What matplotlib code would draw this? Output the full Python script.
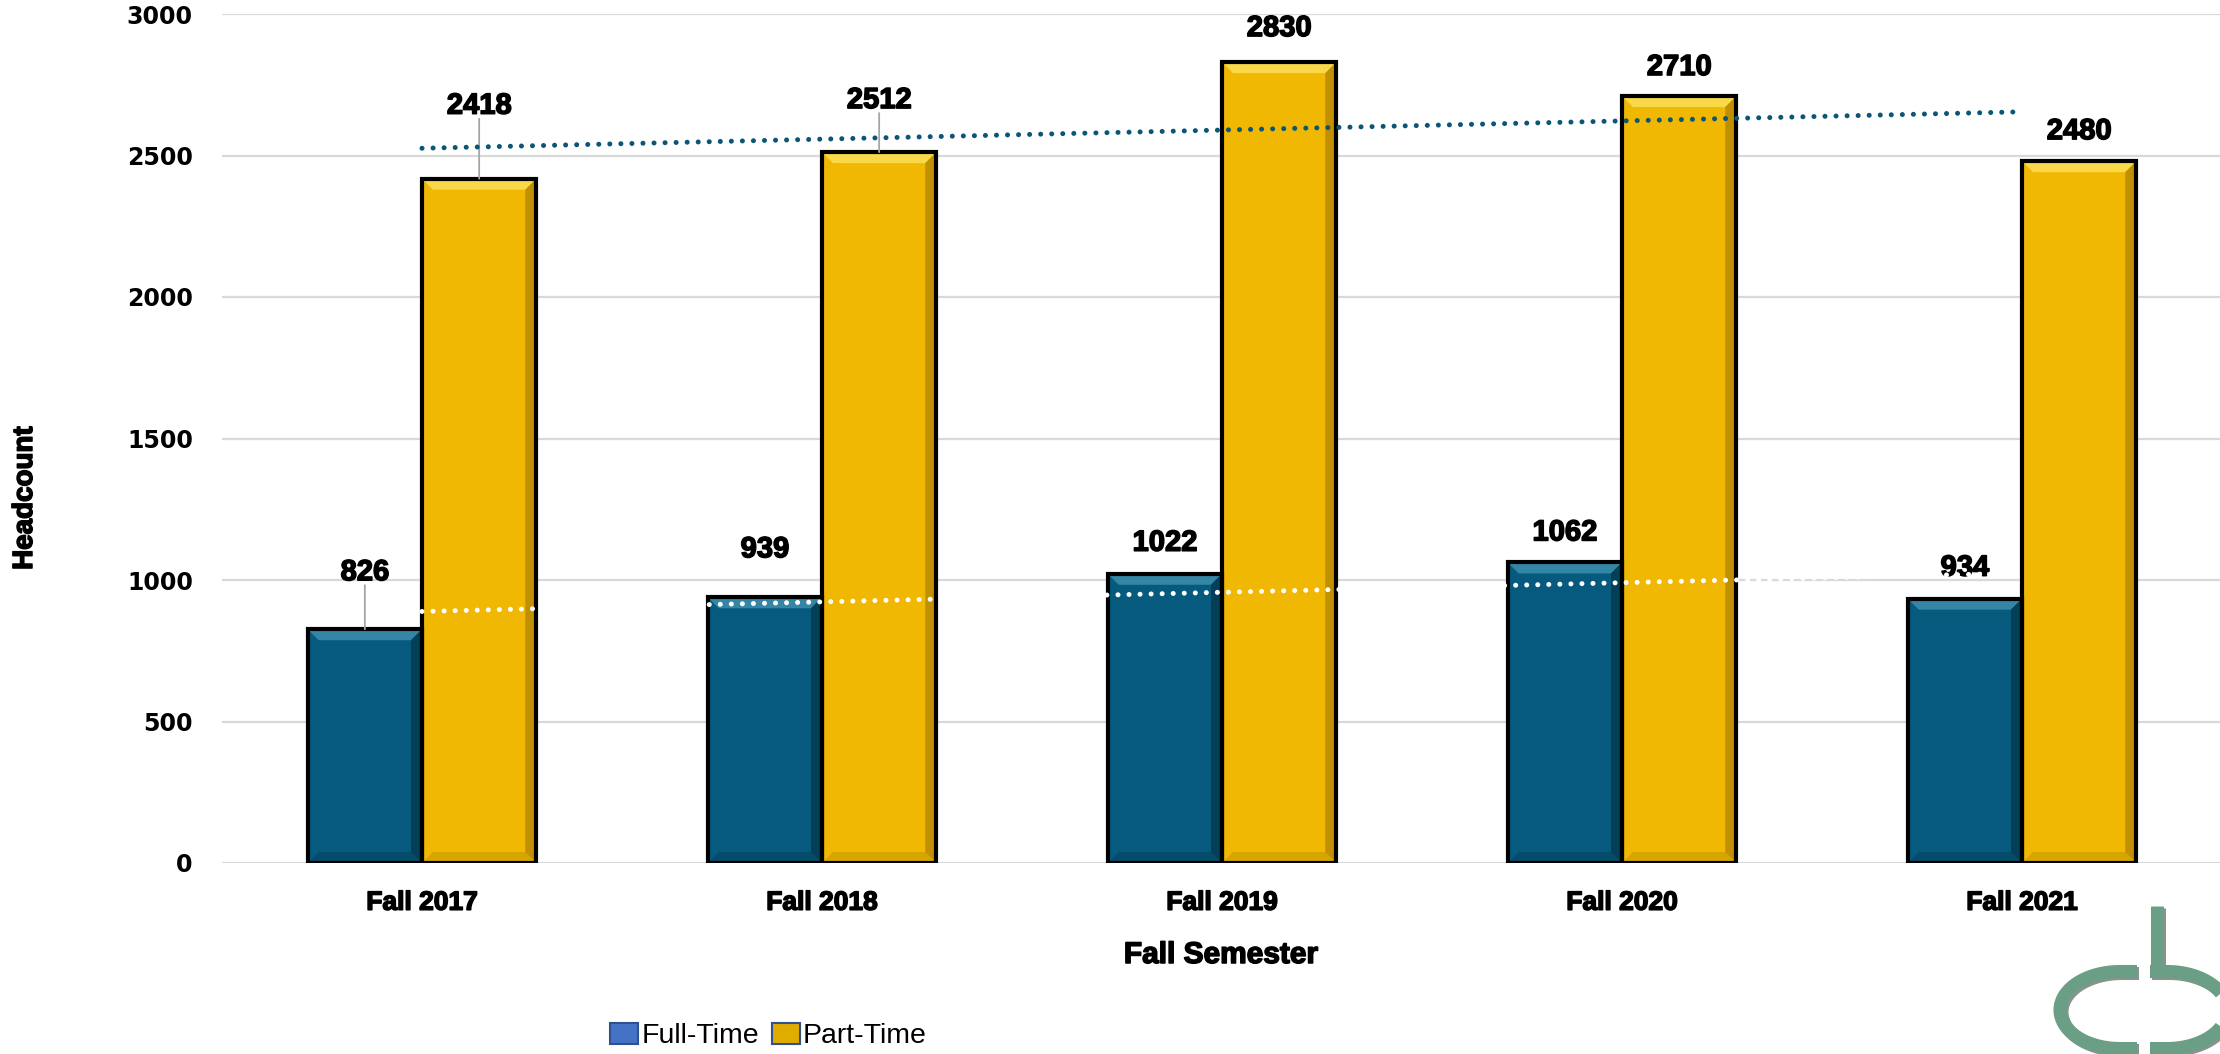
import matplotlib
matplotlib.use('Agg')
import matplotlib.pyplot as plt
import matplotlib.patheffects as pe
import numpy as np
from matplotlib.patches import Polygon, Patch
from matplotlib.lines import Line2D

semesters = ['Fall 2017', 'Fall 2018', 'Fall 2019', 'Fall 2020', 'Fall 2021']
full_time = [826, 939, 1022, 1062, 934]
part_time = [2418, 2512, 2830, 2710, 2480]

# label distance above bar top, in px (Excel moved a few of them up)
ft_label_px = [57, 48, 31, 30, 31]
pt_label_px = [73, 52, 34, 29, 30]
ft_leader = [True, False, False, False, False]
pt_leader = [True, True, False, False, False]

BLUE = '#065A7E'
GOLD = '#F0B803'
TREND_BLUE = '#0B5575'
LOGO = '#6A9F86'
SANS = ['Liberation Sans', 'DejaVu Sans']
HEAVY = [pe.withStroke(linewidth=1.1, foreground='black')]

W, H = 2220, 1054
fig = plt.figure(figsize=(W / 100, H / 100), dpi=100)
ax = fig.add_axes([222 / W, 1 - 863 / H, 2000 / W, 849 / H])

x = np.arange(len(semesters))
bw = 1 / 3.5
ax.set_xlim(-0.5, 4.5)
ax.set_ylim(0, 3000)

# px -> data conversions for the bevel
dx = 11 / 400
dy = 11 * 3000 / 849


def bevel_bars(xs, hs, face, light, dark, side):
    ax.bar(xs, hs, bw, color=face, edgecolor='none', zorder=2)
    for xc, h in zip(xs, hs):
        x0, x1 = xc - bw / 2, xc + bw / 2
        ax.add_patch(Polygon([(x0, h), (x1, h), (x1 - dx, h - dy), (x0 + dx, h - dy)],
                             fc=light, ec='none', zorder=3))
        ax.add_patch(Polygon([(x0, 0), (x1, 0), (x1 - dx, dy), (x0 + dx, dy)],
                             fc=dark, ec='none', zorder=3))
        ax.add_patch(Polygon([(x1, 0), (x1, h), (x1 - dx, h - dy), (x1 - dx, dy)],
                             fc=side, ec='none', zorder=3))
    ax.bar(xs, hs, bw, fill=False, edgecolor='black', linewidth=3, zorder=4)


bevel_bars(x - bw / 2, full_time, BLUE, '#3585A6', '#054C6A', '#043F58')
bevel_bars(x + bw / 2, part_time, GOLD, '#F9D84A', '#D7A500', '#C09000')

# data labels
px2pt = 0.72
for xs, vals, offs, leads in [(x - bw / 2, full_time, ft_label_px, ft_leader),
                              (x + bw / 2, part_time, pt_label_px, pt_leader)]:
    for xc, v, off, lead in zip(xs, vals, offs, leads):
        ax.annotate(str(v), (xc, v), xytext=(0, off * px2pt), textcoords='offset points',
                    ha='center', va='center', fontsize=21, fontweight='bold',
                    family=SANS, zorder=5, path_effects=HEAVY)
        if lead:
            ax.annotate('', (xc, v), xytext=(0, (off - 13) * px2pt), textcoords='offset points',
                        arrowprops=dict(arrowstyle='-', color='#A6A6A6', lw=1.3,
                                        shrinkA=0, shrinkB=0), zorder=5)

# linear trendlines, drawn over the labels like in Excel
for vals, col in [(part_time, TREND_BLUE), (full_time, 'white')]:
    k, b = np.polyfit(x, vals, 1)
    ax.plot(x, k * x + b, color=col, lw=3.6, linestyle=(0, (0.01, 2.2)),
            dash_capstyle='round', solid_capstyle='round', zorder=6)

ax.set_yticks(np.arange(0, 3001, 500))
ax.yaxis.grid(True, color='#D9D9D9', lw=1.6)
ax.set_axisbelow(True)
for s in ax.spines.values():
    s.set_visible(False)
ax.tick_params(axis='both', length=0)
ax.tick_params(axis='y', pad=21)
ax.tick_params(axis='x', pad=20)
ax.set_xticks(x)
ax.set_xticklabels(semesters, fontsize=19, fontweight='bold', family=SANS)
for t in ax.get_xticklabels():
    t.set_path_effects(HEAVY)
for t in ax.get_yticklabels():
    t.set_family('DejaVu Sans')
    t.set_fontweight('bold')
    t.set_fontsize(17)

fig.text(1221 / W, 1 - 955 / H, 'Fall Semester', ha='center', va='center',
         fontsize=21.5, fontweight='bold', family=SANS, path_effects=HEAVY)
fig.text(25 / W, 1 - 498 / H, 'Headcount', ha='center', va='center', rotation=90,
         fontsize=20, fontweight='bold', family=SANS, path_effects=HEAVY)

handles = [Patch(facecolor='#4472C4', edgecolor='#2F528F', lw=1.5, label='Full-Time'),
           Patch(facecolor='#E0AC00', edgecolor='#2F528F', lw=1.5, label='Part-Time')]
fig.legend(handles=handles, loc='center left', bbox_to_anchor=(610 / W, 1 - 1036 / H),
           ncol=2, frameon=False, prop={'family': SANS, 'size': 20.5},
           handlelength=1.0, handleheight=0.8, handletextpad=0.1, columnspacing=0.45,
           borderpad=0, borderaxespad=0)

# logo, bottom right: a "c" and a "b" sharing one rounded outline
lax = fig.add_axes([0, 0, 1, 1], zorder=10)
lax.set_xlim(0, W)
lax.set_ylim(H, 0)
lax.axis('off')
ra, rb, cy = 60, 38.5, 1010
t = np.linspace(np.pi / 2, 3 * np.pi / 2, 80)
c_x = np.r_[2137, 2120 + ra * np.cos(t), 2137]
c_y = np.r_[cy - rb, cy - rb * np.sin(t), cy + rb]
b_x = np.r_[2150, 2167 - ra * np.cos(t), 2150]
b_y = np.r_[cy - rb, cy - rb * np.sin(t), cy + rb]
for off, col, a in [(2, '#2B3A33', 0.55), (0, LOGO, 1)]:
    lax.plot(c_x + off, c_y + off, color=col, alpha=a, lw=9.4, solid_capstyle='butt')
    lax.plot(b_x + off, b_y + off, color=col, alpha=a, lw=9.4, solid_capstyle='butt')
    lax.add_line(Line2D([2156.5 + off, 2156.5 + off], [906 + off, cy - rb + off],
                        color=col, alpha=a, lw=9.4, solid_capstyle='butt'))

fig.savefig('out.png', dpi=100)
